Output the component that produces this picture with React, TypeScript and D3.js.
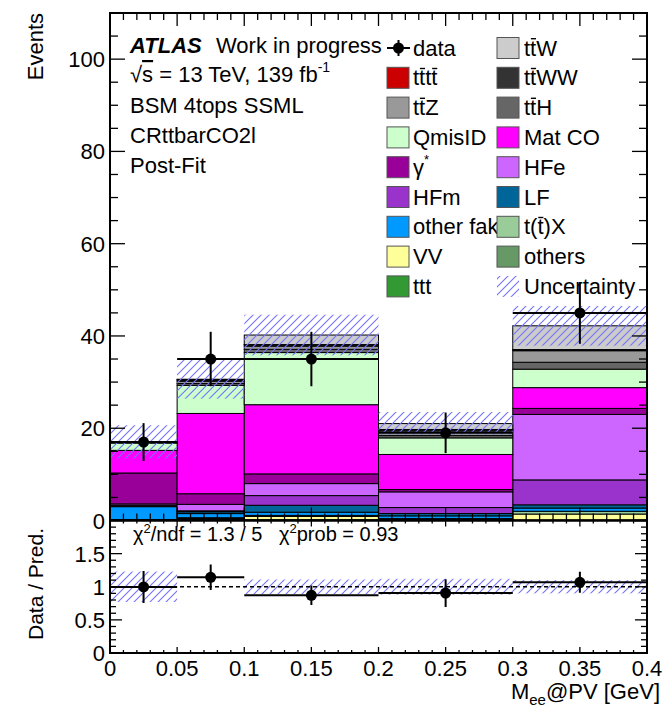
import React from 'react';
import * as d3 from 'd3';

// Binning of M_ee@PV [GeV]
const binEdges = [0, 0.05, 0.1, 0.2, 0.3, 0.4];

// Post-fit yields per bin, listed from the bottom of the stack upwards
const ttt = [0, 0, 0.02, 0.01, 0.05];
const others = [0.05, 0.2, 0.15, 0.1, 0.05];
const vv = [0.1, 0.2, 0.7, 0.2, 1.3];
const ttX = [0.05, 0.2, 0.23, 0.1, 0.6];
const otherFake = [2.8, 0.9, 0.7, 0.6, 0.7];
const lf = [0.1, 0.4, 1.5, 0.5, 0.7];
const hfm = [0.2, 0.2, 2.1, 1.3, 5.4];
const hfe = [0.3, 1.4, 2.6, 3.4, 14.2];
const gammaStar = [6.7, 2.3, 2.1, 0.5, 1.3];
const matCO = [4.9, 17.4, 15.0, 7.6, 4.5];
const qmisID = [1.6, 6.1, 11.3, 3.6, 4.0];
const ttH = [0.05, 0.4, 0.7, 0.5, 1.5];
const ttZ = [0.05, 0.5, 0.7, 1.0, 2.5];
const ttWW = [0.02, 0.3, 0.3, 0.3, 0.2];
const tttt = [0.01, 0.02, 0.03, 0.02, 0.05];
const ttW = [0.12, 0.1, 2.07, 1.28, 5.15];

// Observed data and uncertainties
const dataCounts = [17, 35, 35, 19, 45];
const dataErr = [4.1, 5.9, 5.9, 4.4, 6.7];
const mcUnc = [3.6, 4.2, 4.4, 2.5, 4.3];
const ratioUnc = [0.23, 0, 0.11, 0.12, 0.1];

const yTickLabels = [0, 20, 40, 60, 80, 100];
const ratioTickLabels = [0, 0.5, 1, 1.5];
const xTickLabels = [0, 0.05, 0.1, 0.15, 0.2, 0.25, 0.3, 0.35, 0.4];

const stackSamples = [
  { key: 'ttt', values: ttt, color: '#339933' },
  { key: 'others', values: others, color: '#669966' },
  { key: 'VV', values: vv, color: '#ffff99' },
  { key: 'ttX', values: ttX, color: '#99cc99' },
  { key: 'otherFake', values: otherFake, color: '#0099ff' },
  { key: 'LF', values: lf, color: '#006699' },
  { key: 'HFm', values: hfm, color: '#9933cc' },
  { key: 'HFe', values: hfe, color: '#cc66ff' },
  { key: 'gamma', values: gammaStar, color: '#990099' },
  { key: 'MatCO', values: matCO, color: '#ff00ff' },
  { key: 'QmisID', values: qmisID, color: '#ccffcc' },
  { key: 'ttH', values: ttH, color: '#666666' },
  { key: 'ttZ', values: ttZ, color: '#999999' },
  { key: 'ttWW', values: ttWW, color: '#333333' },
  { key: 'tttt', values: tttt, color: '#cc0000' },
  { key: 'ttW', values: ttW, color: '#cccccc' },
];

// Legend layout: two columns, filled row by row
const legendRows = [
  ['data', 'ttW'],
  ['tttt', 'ttWW'],
  ['ttZ', 'ttH'],
  ['QmisID', 'MatCO'],
  ['gamma', 'HFe'],
  ['HFm', 'LF'],
  ['otherFake', 'ttX'],
  ['VV', 'others'],
  ['ttt', 'unc'],
];

// Labels that carry an anti-quark bar: text plus indices of barred characters
const barredLabels: Record<string, { text: string; over: number[] }> = {
  ttW: { text: 'ttW', over: [1] },
  tttt: { text: 'tttt', over: [1, 3] },
  ttWW: { text: 'ttWW', over: [1] },
  ttZ: { text: 'ttZ', over: [1] },
  ttH: { text: 'ttH', over: [1] },
  ttX: { text: 't(t)X', over: [2] },
};

const plainLabels: Record<string, string> = {
  data: 'data', QmisID: 'QmisID', MatCO: 'Mat CO', HFe: 'HFe', HFm: 'HFm', LF: 'LF',
  otherFake: 'other fake', VV: 'VV', others: 'others', ttt: 'ttt', unc: 'Uncertainty',
};

// Advance widths (em) of the Helvetica-metric glyphs used in barred labels
const glyphW: Record<string, number> = { t: 0.278, W: 0.944, Z: 0.611, H: 0.722, '(': 0.333, ')': 0.333, X: 0.667 };

const FONT = '"Liberation Sans", Arial, Helvetica, sans-serif';
const HATCH = '#7373ff';
const FS = 22;

const W = 670;
const H = 718;
const x = d3.scaleLinear().domain([0, 0.4]).range([110, 647]);
const yTop = d3.scaleLinear().domain([0, 110]).range([520.5, 13]);
const yRat = d3.scaleLinear().domain([0, 2]).range([653, 520.5]);

function Label({ k, x0, y0 }: { k: string; x0: number; y0: number }) {
  if (barredLabels[k]) {
    const { text, over } = barredLabels[k];
    let cx = x0;
    const bars: React.ReactNode[] = [];
    text.split('').forEach((c, i) => {
      const w = (glyphW[c] ?? 0.556) * FS;
      if (over.includes(i)) {
        bars.push(<line key={i} x1={cx + 0.8} x2={cx + w - 0.2} y1={y0 - 16.8} y2={y0 - 16.8} stroke="#000" strokeWidth={1.4} />);
      }
      cx += w;
    });
    return (
      <g>
        <text x={x0} y={y0}>{text}</text>
        {bars}
      </g>
    );
  }
  if (k === 'gamma') {
    return <text x={x0} y={y0}>γ<tspan dy={-11} fontSize={13}>*</tspan></text>;
  }
  return <text x={x0} y={y0}>{plainLabels[k] ?? k}</text>;
}

export default function App() {
  const nBins = binEdges.length - 1;
  const bins = d3.range(nBins);

  // cumulative stack boundaries
  const stackRects: { x0: number; x1: number; y0: number; y1: number; color: string; id: string }[] = [];
  const running = bins.map(() => 0);
  stackSamples.forEach((s) => {
    bins.forEach((b) => {
      const lo = running[b];
      const hi = lo + s.values[b];
      running[b] = hi;
      stackRects.push({ x0: binEdges[b], x1: binEdges[b + 1], y0: lo, y1: hi, color: s.color, id: `${s.key}-${b}` });
    });
  });
  const totals = running.slice();
  const colorOf = Object.fromEntries(stackSamples.map((s) => [s.key, s.color]));

  const xMinor = d3.range(0, 0.4001, 0.01);
  const yMinor = d3.range(0, 110.001, 5);
  const rMinor = d3.range(0, 2.0001, 0.1);

  const isMajor = (v: number, step: number) => Math.abs(v / step - Math.round(v / step)) < 1e-6;

  const left = x(0);
  const right = x(0.4);

  const legendRowY = (i: number) => 48 + i * 29.8;
  const col1Box = 387;
  const col2Box = 497;

  return (
    <svg width={W} height={H} style={{ position: 'absolute', left: 0, top: 0, background: '#fff' }} fontFamily={FONT}>
      <defs>
        <pattern id="hatch" patternUnits="userSpaceOnUse" width={8} height={8}>
          <path d="M-2,2 L2,-2 M0,8 L8,0 M6,10 L10,6" stroke={HATCH} strokeWidth={1.1} />
        </pattern>
        <clipPath id="clipTop">
          <rect x={left} y={yTop(110)} width={right - left} height={yTop(0) - yTop(110)} />
        </clipPath>
        <clipPath id="clipRat">
          <rect x={left} y={yRat(2)} width={right - left} height={yRat(0) - yRat(2)} />
        </clipPath>
      </defs>
      <rect width={W} height={H} fill="#fff" />

      {/* stacked backgrounds */}
      <g clipPath="url(#clipTop)">
        {stackRects.map((r) => (
          <rect key={r.id} x={x(r.x0)} y={yTop(r.y1)} width={x(r.x1) - x(r.x0)} height={yTop(r.y0) - yTop(r.y1)}
            fill={r.color} stroke="#000" strokeWidth={1} />
        ))}
        {/* total uncertainty band */}
        {bins.map((b) => (
          <rect key={`unc-${b}`} x={x(binEdges[b])} y={yTop(totals[b] + mcUnc[b])} width={x(binEdges[b + 1]) - x(binEdges[b])}
            height={yTop(totals[b] - mcUnc[b]) - yTop(totals[b] + mcUnc[b])} fill="url(#hatch)" />
        ))}
        {/* data */}
        {bins.map((b) => {
          const cx = x((binEdges[b] + binEdges[b + 1]) / 2);
          const cy = yTop(dataCounts[b]);
          return (
            <g key={`d-${b}`}>
              <line x1={x(binEdges[b])} x2={x(binEdges[b + 1])} y1={cy} y2={cy} stroke="#000" strokeWidth={2} />
              <line x1={cx} x2={cx} y1={yTop(dataCounts[b] - dataErr[b])} y2={yTop(dataCounts[b] + dataErr[b])} stroke="#000" strokeWidth={2} />
              <circle cx={cx} cy={cy} r={5.5} fill="#000" />
            </g>
          );
        })}
      </g>

      {/* ratio panel */}
      <g clipPath="url(#clipRat)">
        {bins.map((b) => ratioUnc[b] > 0 ? (
          <rect key={`ru-${b}`} x={x(binEdges[b])} y={yRat(1 + ratioUnc[b])} width={x(binEdges[b + 1]) - x(binEdges[b])}
            height={yRat(1 - ratioUnc[b]) - yRat(1 + ratioUnc[b])} fill="url(#hatch)" />
        ) : null)}
        <line x1={left} x2={right} y1={yRat(1)} y2={yRat(1)} stroke="#000" strokeWidth={1.5} strokeDasharray="4,3" />
        {bins.map((b) => {
          const ratio = dataCounts[b] / totals[b];
          const err = dataErr[b] / totals[b];
          const cx = x((binEdges[b] + binEdges[b + 1]) / 2);
          const cy = yRat(ratio);
          return (
            <g key={`r-${b}`}>
              <line x1={x(binEdges[b])} x2={x(binEdges[b + 1])} y1={cy} y2={cy} stroke="#000" strokeWidth={2} />
              <line x1={cx} x2={cx} y1={yRat(ratio - err)} y2={yRat(ratio + err)} stroke="#000" strokeWidth={2} />
              <circle cx={cx} cy={cy} r={5.5} fill="#000" />
            </g>
          );
        })}
      </g>

      {/* frames and ticks */}
      <g stroke="#000" strokeWidth={1.3} fill="none">
        {xMinor.map((v, i) => {
          const maj = isMajor(v, 0.05);
          const px = x(v);
          const lt = maj ? 13 : 7;
          const lr = maj ? 6 : 3;
          return (
            <g key={`xt-${i}`}>
              <line x1={px} x2={px} y1={yTop(0)} y2={yTop(0) - lt} />
              <line x1={px} x2={px} y1={yTop(110)} y2={yTop(110) + lt} />
              <line x1={px} x2={px} y1={yRat(0)} y2={yRat(0) - lr} />
              <line x1={px} x2={px} y1={yRat(2)} y2={yRat(2) + lr} />
            </g>
          );
        })}
        {yMinor.map((v, i) => {
          const maj = isMajor(v, 20);
          const l = maj ? 15 : 8;
          const py = yTop(v);
          return (
            <g key={`yt-${i}`}>
              <line x1={left} x2={left + l} y1={py} y2={py} />
              <line x1={right} x2={right - l} y1={py} y2={py} />
            </g>
          );
        })}
        {rMinor.map((v, i) => {
          const maj = isMajor(v, 0.5);
          const l = maj ? 12 : 6;
          const py = yRat(v);
          return (
            <g key={`rt-${i}`}>
              <line x1={left} x2={left + l} y1={py} y2={py} />
              <line x1={right} x2={right - l} y1={py} y2={py} />
            </g>
          );
        })}
        <rect x={left} y={yTop(110)} width={right - left} height={yTop(0) - yTop(110)} strokeWidth={2} />
        <rect x={left} y={yRat(2)} width={right - left} height={yRat(0) - yRat(2)} strokeWidth={2} />
      </g>

      {/* tick labels */}
      <g fontSize={FS} fill="#000">
        {yTickLabels.map((v) => (
          <text key={`yl-${v}`} x={105} y={yTop(v) + 8} textAnchor="end">{v}</text>
        ))}
        {ratioTickLabels.map((v) => (
          <text key={`rl-${v}`} x={105} y={yRat(v) + 8} textAnchor="end">{v}</text>
        ))}
        {xTickLabels.map((v) => (
          <text key={`xl-${v}`} x={x(v)} y={676} textAnchor="middle">{v}</text>
        ))}
      </g>

      {/* axis titles */}
      <text fontSize={FS} transform={`translate(43,13) rotate(-90)`} textAnchor="end">Events</text>
      <text fontSize={21} transform={`translate(43,584) rotate(-90)`} textAnchor="middle">Data / Pred.</text>
      <text fontSize={FS} x={660} y={699} textAnchor="end">
        M<tspan fontSize={15} dy={6}>ee</tspan><tspan dy={-6}>@PV [GeV]</tspan>
      </text>

      {/* fit quality */}
      <g fontSize={20}>
        <text x={133} y={541}>
          χ<tspan fontSize={13} dy={-8}>2</tspan><tspan dy={8}>/ndf = 1.3 / 5</tspan>
        </text>
        <text x={279} y={541}>
          χ<tspan fontSize={13} dy={-8}>2</tspan><tspan dy={8}>prob = 0.93</tspan>
        </text>
      </g>

      {/* labels */}
      <g fontSize={FS} fill="#000">
        <text x={130} y={52.5} fontWeight="bold" fontStyle="italic">ATLAS</text>
        <text x={216} y={52.5}>Work in progress</text>
        <text x={130} y={82}>
          √<tspan style={{ textDecoration: 'overline' }}>s</tspan> = 13 TeV, 139 fb<tspan fontSize={14} dy={-10}>-1</tspan>
        </text>
        <text x={130} y={112.5}>BSM 4tops SSML</text>
        <text x={130} y={142.5}>CRttbarCO2l</text>
        <text x={130} y={172.5}>Post-Fit</text>
      </g>

      {/* legend */}
      <g fontSize={FS} fill="#000">
        {legendRows.map((row, i) => (
          <Label key={`lt1-${i}`} k={row[0]} x0={col1Box + 26} y0={legendRowY(i) + 7.5} />
        ))}
        {legendRows.map((row, i) => {
          const cy = legendRowY(i);
          const k = row[0];
          if (k === 'data') {
            return (
              <g key={`lb1-${i}`}>
                <line x1={col1Box} x2={col1Box + 23} y1={cy} y2={cy} stroke="#000" strokeWidth={2} />
                <line x1={col1Box + 11.5} x2={col1Box + 11.5} y1={cy - 8} y2={cy + 8} stroke="#000" strokeWidth={2} />
                <circle cx={col1Box + 11.5} cy={cy} r={5.5} fill="#000" />
              </g>
            );
          }
          return <rect key={`lb1-${i}`} x={col1Box} y={cy - 10.5} width={22} height={21} fill={colorOf[k]} stroke="#555" strokeWidth={1} />;
        })}
        {legendRows.map((row, i) => {
          const cy = legendRowY(i);
          const k = row[1];
          return (
            <g key={`l2-${i}`}>
              {k === 'unc'
                ? <rect x={col2Box} y={cy - 10.5} width={22} height={21} fill="url(#hatch)" />
                : <rect x={col2Box} y={cy - 10.5} width={22} height={21} fill={colorOf[k]} stroke="#555" strokeWidth={1} />}
              <Label k={k} x0={col2Box + 27} y0={cy + 7.5} />
            </g>
          );
        })}
      </g>
    </svg>
  );
}
